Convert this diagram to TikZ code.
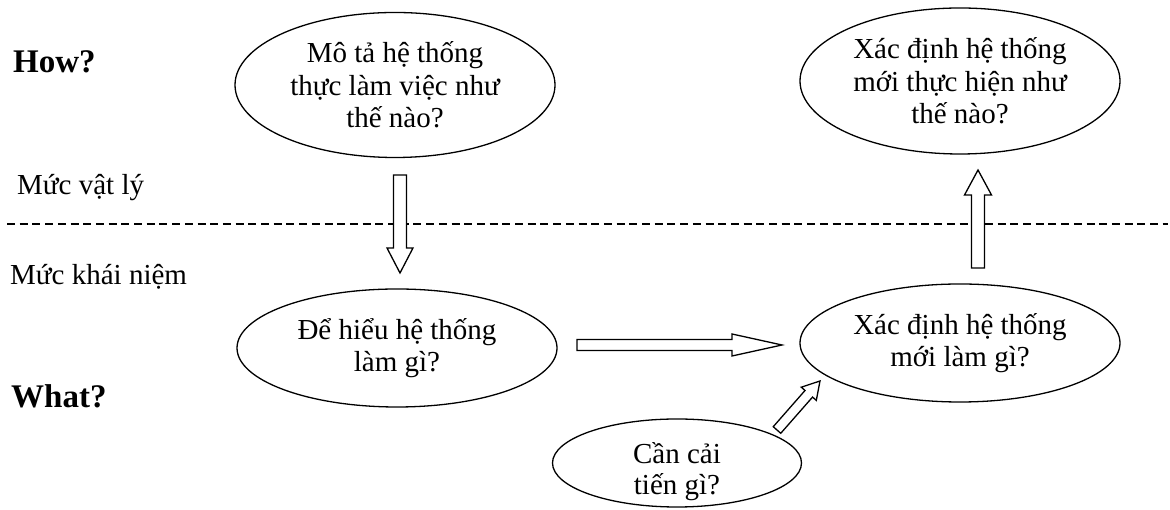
\documentclass[tikz,border=0pt]{standalone}
\usepackage{fontspec}
\setmainfont{Liberation Serif}
\usetikzlibrary{shapes.geometric,calc}

\tikzset{
  bubble/.style={draw, ellipse, line width=1.3pt, inner sep=0pt, align=center,
    font=\fontsize{29}{32.5}\selectfont},
  bubbletext/.style={inner sep=0pt, align=center, font=\fontsize{29}{31}\selectfont},
  layer/.style={anchor=base west, inner sep=0pt, font=\fontsize{29}{32.5}\selectfont},
  question/.style={anchor=base west, inner sep=0pt, font=\fontsize{33}{36}\selectfont\bfseries},
  fat/.style={draw, line width=1.3pt, fill=white, line join=miter},
  divider/.style={line width=1.2pt, dash pattern=on 8pt off 4.7pt}
}

% hollow block arrow: from, to, shaft half width, head half width, head length
\newcommand{\fatarrow}[5]{%
  \coordinate (hb) at ($(#2)!#5!(#1)$);
  \draw[fat] ($(#1)!#3!90:(#2)$) -- ($(hb)!#3!90:(#2)$) -- ($(hb)!#4!90:(#2)$) -- (#2)
    -- ($(hb)!#4!-90:(#2)$) -- ($(hb)!#3!-90:(#2)$) -- ($(#1)!#3!-90:(#2)$) -- cycle;
}

\begin{document}
\begin{tikzpicture}[x=1pt,y=1pt]
\useasboundingbox (0,0) rectangle (1170,510);
\clip (0,0) rectangle (1170,510);

% levels
\node[question] (how) at (13,437) {How?};
\node[layer] (vatly) at (17,315) {Mức vật lý};
\draw[divider] (7,286) -- (1168,286);
\node[layer] (khainiem) at (10,225) {Mức khái niệm};
\node[question] (what) at (11,102) {What?};

% bubbles
\node[bubble, minimum width=320, minimum height=145] (mota) at (395,425)
  {Mô tả hệ thống\\thực làm việc như\\thế nào?};
\node[bubble, minimum width=320, minimum height=146] (thuchien) at (960,429)
  {Xác định hệ thống\\mới thực hiện như\\thế nào?};
\node[bubble, minimum width=320, minimum height=118] (hieu) at (397,162)
  {Để hiểu hệ thống\\làm gì?};
\node[bubble, minimum width=320, minimum height=118] (lamgi) at (960,167)
  {Xác định hệ thống\\mới làm gì?};
\node[bubble, minimum width=249, minimum height=88] (caitien) at (677,47) {};
\node[bubbletext] (caitientext) at ($(caitien.center)+(0,-9)$) {Cần cải\\tiến gì?};

% arrow ends
\coordinate (downA) at (400,335);
\coordinate (downB) at (400,237);
\coordinate (rightA) at (577,165);
\coordinate (rightB) at (782,165);
\coordinate (upA) at (978,242);
\coordinate (upB) at (978,340);
\coordinate (diagA) at (777,80);
\coordinate (diagB) at (820,129);

\fatarrow{downA}{downB}{6.5pt}{13pt}{25pt}
\fatarrow{rightA}{rightB}{5.5pt}{11pt}{50pt}
\fatarrow{upA}{upB}{6.5pt}{13.5pt}{25pt}
\fatarrow{diagA}{diagB}{5pt}{10pt}{17pt}

\end{tikzpicture}
\end{document}
